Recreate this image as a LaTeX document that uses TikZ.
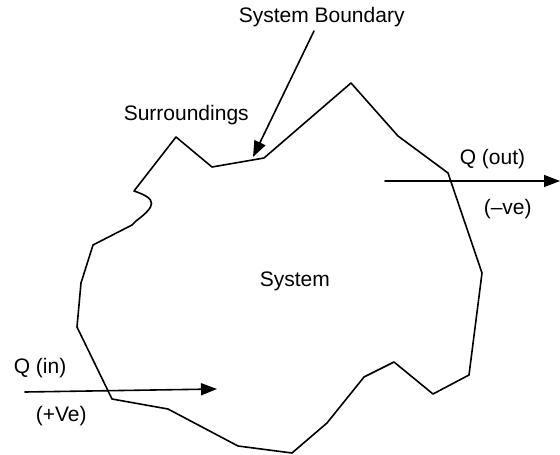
\documentclass[tikz,border=0pt]{standalone}
\usepackage{fontspec}
\setmainfont{Liberation Sans}
\usetikzlibrary{arrows.meta}
\tikzset{lbl/.style={inner sep=0pt,anchor=base west,font=\fontsize{21}{24}\selectfont}}
\begin{document}
\begin{tikzpicture}[x=1pt,y=-1pt,>={Triangle[length=16pt,width=12pt]}, line join=round, line cap=round,line width=1.6pt]
		\useasboundingbox (0,0) rectangle (560,455);
		%Boundary
		\draw (351,83)--(398,136)--(448,173)--(482,273)--(469,375)--(433,394)--(394,362)--(364,377)--(327,423)--(292,453)--(238,446)--(168,409)--(112,399)--(77,327)--(81,283)--(93,245)--(132,225)--(136,221) .. controls (156,206) and (158,199) .. (134,191)--(176,137)--(212,167)--(264,158)--cycle;
		%Labels
		\node[lbl] (bound) at (238,23) {System Boundary};
		\node[lbl] (surr) at (123,120) {Surroundings};
		\node[lbl] (sys) at (259,286) {System};
		\node[lbl] (qout) at (459,164) {Q (out)};
		\node[lbl] (neg) at (483,214) {(--ve)};
		\node[lbl] (qin) at (13,373) {Q (in)};
		\node[lbl] (pos) at (35,421) {(+Ve)};
		%Arrows
		\coordinate (bt) at (314,31); \coordinate (bh) at (253,157);
		\coordinate (o1) at (385,181); \coordinate (o2) at (560,181);
		\coordinate (i1) at (25,392); \coordinate (i2) at (217,389);
		\draw[->] (bt)--(bh);
		\draw[->] (o1)--(o2);
		\draw[->] (i1)--(i2);
	\end{tikzpicture}
\end{document}
